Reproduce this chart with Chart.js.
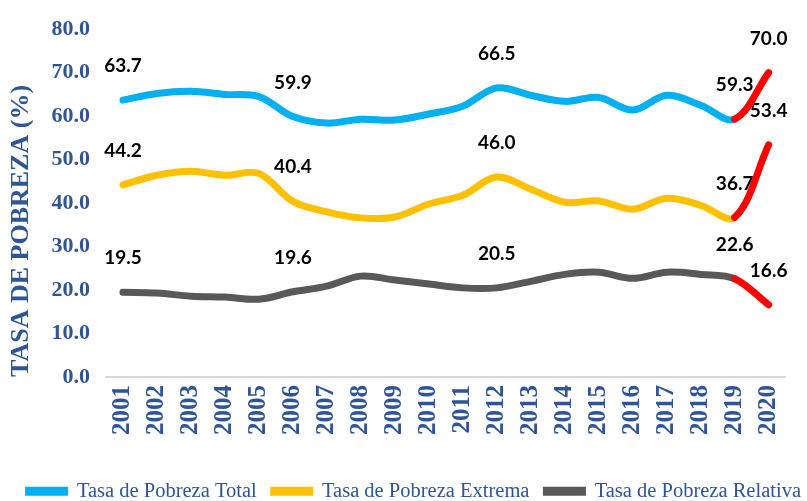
<!DOCTYPE html>
<html>
<head>
<meta charset="utf-8">
<script src="https://cdn.jsdelivr.net/npm/chart.js@4.4.1/dist/chart.umd.min.js"></script>
<style>
  html, body { margin: 0; padding: 0; background: #fff; }
  #wrap { position: relative; width: 807px; height: 501px; }
</style>
</head>
<body>
<div id="wrap"><canvas id="chart"></canvas></div>
<script>
const years = ["2001", "2002", "2003", "2004", "2005", "2006", "2007", "2008", "2009", "2010",
               "2011", "2012", "2013", "2014", "2015", "2016", "2017", "2018", "2019", "2020"];
const totalRate    = [63.7, 65.2, 65.7, 65.0, 64.5, 59.9, 58.4, 59.3, 59.1, 60.5, 62.3, 66.5, 64.8, 63.4, 64.3, 61.4, 64.8, 62.5, 59.3, 70.0];
const extremeRate  = [44.2, 46.4, 47.3, 46.4, 46.8, 40.4, 38.0, 36.6, 36.8, 39.8, 41.8, 46.0, 43.2, 40.2, 40.5, 38.6, 41.1, 39.5, 36.7, 53.4];
const relativeRate = [19.5, 19.3, 18.6, 18.4, 17.9, 19.6, 20.9, 23.2, 22.3, 21.4, 20.5, 20.5, 22.0, 23.6, 24.1, 22.7, 24.1, 23.6, 22.6, 16.6];
const seriesNames  = ["Tasa de Pobreza Total", "Tasa de Pobreza Extrema", "Tasa de Pobreza Relativa"];
const labelIndex   = [0, 5, 11, 18, 19];   // points that carry a value label
const yTicks       = [0, 10, 20, 30, 40, 50, 60, 70, 80];

const axisBlue = "#2F5597";
const lastIdx = years.length - 1;

// the 2019 -> 2020 segment is drawn in red
const redLast = (color) => ({
  borderColor: (ctx) => ctx.p1DataIndex === lastIdx ? "#FF0000" : color
});

function makeSeries(label, data, color) {
  return {
    label: label,
    data: data,
    borderColor: color,
    backgroundColor: color,
    borderWidth: 7,
    tension: 0.35,
    pointRadius: 0,
    pointHoverRadius: 0,
    borderCapStyle: "round",
    borderJoinStyle: "round",
    fill: false,
    segment: redLast(color)
  };
}

const pointLabels = {
  id: "pointLabels",
  beforeDatasetsDraw(chart) {
    const ctx = chart.ctx;
    ctx.save();
    ctx.font = "bold 19px Lato";
    ctx.fillStyle = "#000";
    ctx.textAlign = "center";
    ctx.textBaseline = "middle";
    chart.data.datasets.forEach((ds, i) => {
      const meta = chart.getDatasetMeta(i);
      labelIndex.forEach(j => {
        const pt = meta.data[j];
        ctx.fillText(ds.data[j].toFixed(1), pt.x, pt.y - 34);
      });
    });
    ctx.restore();
  }
};

const ctx = document.getElementById("chart").getContext("2d");
new Chart(ctx, {
  type: "line",
  data: {
    labels: years,
    datasets: [
      makeSeries(seriesNames[0], totalRate, "#00B0F0"),
      makeSeries(seriesNames[1], extremeRate, "#FFC000"),
      makeSeries(seriesNames[2], relativeRate, "#595959")
    ]
  },
  options: {
    responsive: true,
    maintainAspectRatio: false,
    animation: false,
    layout: { padding: { top: 25, left: 0, right: -9, bottom: -10.5 } },
    scales: {
      x: {
        offset: true,
        grid: { display: false, drawTicks: false },
        border: { display: true, color: "#D9D9D9", width: 2 },
        ticks: {
          autoSkip: false,
          minRotation: 90,
          maxRotation: 90,
          padding: 8,
          color: axisBlue,
          font: { family: "Liberation Serif", size: 25, weight: "bold" }
        },
        afterFit(s) { s.height = 89; }
      },
      y: {
        min: 0,
        max: 80,
        grid: { display: false, drawTicks: false },
        border: { display: false },
        afterBuildTicks(s) { s.ticks = yTicks.map(v => ({ value: v })); },
        ticks: {
          padding: 16,
          color: axisBlue,
          font: { family: "Liberation Serif", size: 22, weight: "bold" },
          callback: (v) => Number(v).toFixed(1)
        },
        title: {
          display: true,
          text: "TASA DE POBREZA (%)",
          align: "start",
          color: axisBlue,
          padding: { top: 6, bottom: 0 },
          font: { family: "Liberation Serif", size: 26, weight: "bold" }
        },
        afterFit(s) { s.width = 106; }
      },
      yRight: {
        position: "right",
        grid: { display: false, drawTicks: false },
        border: { display: false },
        ticks: { display: false },
        afterFit(s) { s.width = 24; }
      }
    },
    plugins: {
      tooltip: { enabled: false },
      legend: {
        position: "bottom",
        align: "end",
        labels: {
          boxWidth: 40,
          boxHeight: 6,
          padding: 15,
          useBorderRadius: true,
          borderRadius: 3,
          color: axisBlue,
          font: { family: "Liberation Serif", size: 20.5 },
          generateLabels(chart) {
            return chart.data.datasets.map((ds, i) => ({
              text: ds.label,
              fillStyle: ds.borderColor,
              strokeStyle: ds.borderColor,
              lineWidth: 3,
              fontColor: axisBlue,
              hidden: false,
              datasetIndex: i
            }));
          }
        }
      }
    }
  },
  plugins: [pointLabels]
});
</script>
</body>
</html>
